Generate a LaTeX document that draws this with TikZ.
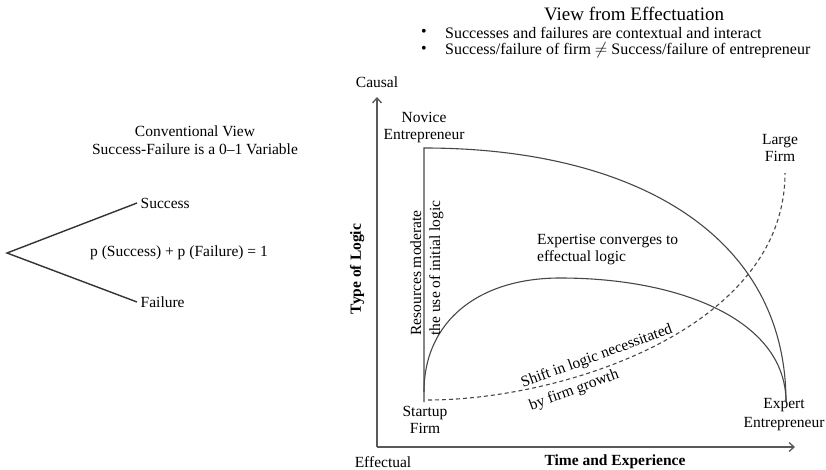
\documentclass[tikz,border=0pt]{standalone}
\usepackage{fontspec}
\setmainfont{Liberation Serif}
\usetikzlibrary{arrows.meta}

\begin{document}
\begin{tikzpicture}[x=1pt,y=-1pt,
  txt/.style={inner sep=0pt, font=\fontsize{15.5}{17}\selectfont},
  blt/.style={inner sep=0pt, font=\fontsize{16}{17}\selectfont},
  ttl/.style={inner sep=0pt, font=\fontsize{19}{21}\selectfont},
  axislbl/.style={inner sep=0pt, font=\fontsize{15.5}{17}\selectfont\bfseries},
  branch/.style={line width=1.4pt, draw=black!80},
  axisline/.style={line width=1.3pt, draw=black!65, -{Straight Barb[length=5pt,width=9pt]}},
  curve/.style={line width=1.1pt, draw=black!72},
  dcurve/.style={line width=1.1pt, draw=black!72, dash pattern=on 4pt off 3pt}]
\useasboundingbox (0,0) rectangle (826,470);

% ---------- conventional view ----------
\node[txt] (cv1) at (195,131) {Conventional View};
\node[txt] (cv2) at (195,149) {Success-Failure is a 0--1 Variable};
\coordinate (apex) at (7,253);
\node[txt, anchor=west, inner sep=3.5pt] (succ) at (137,203) {Success};
\node[txt, anchor=west, inner sep=3.5pt] (fail) at (137,302) {Failure};
\node[txt, anchor=west] (sum) at (90,253) {p (Success) + p (Failure) = 1};
\draw[branch] (succ.west) -- (apex) -- (fail.west);

% ---------- view from effectuation ----------
\node[ttl] (vt) at (634,14) {View from Effectuation};
\node[blt, anchor=west] (b1) at (445,33) {Successes and failures are contextual and interact};
\node[blt, anchor=west] (b2) at (445,50) {Success/failure of firm $\neq$ Success/failure of entrepreneur};
\node[blt] (d1) at (424,33) {\textbullet};
\node[blt] (d2) at (424,50) {\textbullet};

% axes
\coordinate (o) at (377,447);
\coordinate (ytop) at (377,97);
\coordinate (xend) at (795,447);
\draw[axisline] (o) -- (ytop);
\draw[axisline] (o) -- (xend);
\node[txt] (causal) at (377,82) {Causal};
\node[txt] (effl) at (383,462) {Effectual};
\node[axislbl] (xl) at (615,462) {Time and Experience};
\node[axislbl, rotate=90] (yl) at (357,269) {Type of Logic};

% key points
\coordinate (nv) at (424,148);
\coordinate (sf) at (424,402);
\coordinate (ex) at (786,402);
\coordinate (pk) at (560,278);
\coordinate (ds) at (428,400);
\coordinate (lf) at (785,173);

\node[txt, align=center] (novice) at (424,128) {Novice\\Entrepreneur};
\node[txt, align=center] (large) at (780,148) {Large\\Firm};
\node[txt, align=center] (startup) at (425,420) {Startup\\Firm};
\node[txt, align=center, font=\fontsize{15.5}{19}\selectfont] (expert) at (784,415) {Expert\\Entrepreneur};

% curves
\draw[curve] (sf) -- (nv) .. controls (630,148) and (786,232) .. (ex);
\draw[curve] (424,392) .. controls (424,320) and (480,278) .. (pk)
             .. controls (680,278) and (786,320) .. (ex);
\draw[dcurve] (ds) .. controls (560,400) and (785,330) .. (lf);

% annotations
\node[txt, rotate=90, align=left, font=\fontsize{15.5}{19}\selectfont] (res) at (427,268) {Resources moderate\\the use of initial logic};
\node[txt, anchor=north west, align=left] (conv) at (537,234) {Expertise converges to\\effectual logic};
\node[txt, rotate=20, align=left, font=\fontsize{15.5}{24}\selectfont] (shift) at (601,368) {Shift in logic necessitated\\by firm growth};
\end{tikzpicture}
\end{document}
